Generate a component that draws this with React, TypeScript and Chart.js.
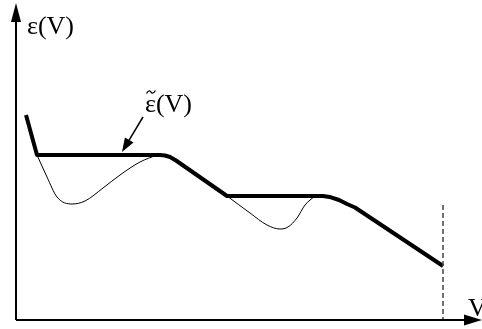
import React, { useEffect, useRef } from "react";
import { Chart, registerables } from "chart.js";

Chart.register(...registerables);

// Data units: x from 0 (y-axis) to 466, y from 0 (x-axis) to 320
const envelopeX = [10, 21, 144, 149, 154, 160, 211, 307, 315, 323, 331, 339, 427];
const envelopeY = [205, 165, 165, 164.5, 163, 159.5, 124, 124, 122.7, 120, 116, 112.5, 54];

const dip1X = [21, 31, 41, 56, 69, 87, 104, 124, 141];
const dip1Y = [165, 143, 123, 116, 119, 132, 145, 158, 165];

const dip2X = [211, 234, 251, 264, 272, 281, 289, 299];
const dip2Y = [124, 107, 95, 91, 93, 102, 115, 124];

const dashedX = [427, 427];
const dashedY = [115, 0];

const yAxisLabel = "ε(V)";
const xAxisLabel = "V";
const envelopeSymbol = "ε";
const envelopeArg = "(V)";

const X_MAX = 466;
const Y_MAX = 320;

function pts(xs: number[], ys: number[]) {
  return xs.map((x, i) => ({ x, y: ys[i] }));
}

const decorPlugin = {
  id: "decor",
  afterDatasetsDraw(chart: any) {
    const ctx: CanvasRenderingContext2D = chart.ctx;
    const xs = chart.scales.x;
    const ys = chart.scales.y;
    const ox = xs.getPixelForValue(0);
    const oy = ys.getPixelForValue(0);
    const topY = ys.getPixelForValue(317);
    const rightX = xs.getPixelForValue(X_MAX);
    ctx.save();
    ctx.strokeStyle = "#000";
    ctx.fillStyle = "#000";
    ctx.lineWidth = 2;
    // axes
    ctx.beginPath();
    ctx.moveTo(ox, oy);
    ctx.lineTo(ox, topY + 12);
    ctx.moveTo(ox, oy);
    ctx.lineTo(rightX - 12, oy);
    ctx.stroke();
    // y arrowhead
    ctx.beginPath();
    ctx.moveTo(ox, topY);
    ctx.lineTo(ox - 5, topY + 19);
    ctx.lineTo(ox + 5, topY + 19);
    ctx.closePath();
    ctx.fill();
    // x arrowhead
    ctx.beginPath();
    ctx.moveTo(rightX, oy);
    ctx.lineTo(rightX - 18, oy - 5.5);
    ctx.lineTo(rightX - 18, oy + 5.5);
    ctx.closePath();
    ctx.fill();
    // labels
    ctx.font = "26px 'Liberation Serif', 'Times New Roman', serif";
    ctx.textBaseline = "alphabetic";
    ctx.textAlign = "left";
    ctx.fillText(yAxisLabel, ox + 11, ys.getPixelForValue(286));
    ctx.fillText(xAxisLabel, xs.getPixelForValue(452), oy - 4);
    const lx = xs.getPixelForValue(129);
    const lb = ys.getPixelForValue(208);
    ctx.fillText(envelopeSymbol, lx, lb);
    const we = ctx.measureText(envelopeSymbol).width;
    ctx.fillText(envelopeArg, lx + we, lb);
    // tilde over epsilon
    ctx.lineWidth = 1.3;
    ctx.beginPath();
    const t0 = lx + 1.5;
    const t1 = lx + we - 0.5;
    const ty = lb - 20;
    ctx.moveTo(t0, ty + 1.5);
    ctx.bezierCurveTo(t0 + (t1 - t0) * 0.25, ty - 2.5, t0 + (t1 - t0) * 0.45, ty - 1, (t0 + t1) / 2, ty);
    ctx.bezierCurveTo(t0 + (t1 - t0) * 0.55, ty + 1, t0 + (t1 - t0) * 0.75, ty + 2.5, t1, ty - 1.5);
    ctx.stroke();
    // annotation arrow
    const ax0 = xs.getPixelForValue(127);
    const ay0 = ys.getPixelForValue(203);
    const ax1 = xs.getPixelForValue(106);
    const ay1 = ys.getPixelForValue(168);
    const ang = Math.atan2(ay1 - ay0, ax1 - ax0);
    ctx.lineWidth = 1.5;
    ctx.beginPath();
    ctx.moveTo(ax0, ay0);
    ctx.lineTo(ax1 - Math.cos(ang) * 10, ay1 - Math.sin(ang) * 10);
    ctx.stroke();
    ctx.beginPath();
    ctx.moveTo(ax1, ay1);
    ctx.lineTo(ax1 - Math.cos(ang) * 14 + Math.sin(ang) * 5, ay1 - Math.sin(ang) * 14 - Math.cos(ang) * 5);
    ctx.lineTo(ax1 - Math.cos(ang) * 14 - Math.sin(ang) * 5, ay1 - Math.sin(ang) * 14 + Math.cos(ang) * 5);
    ctx.closePath();
    ctx.fill();
    ctx.restore();
  },
};

export default function App() {
  const ref = useRef<HTMLCanvasElement>(null);
  useEffect(() => {
    if (!ref.current) return;
    const chart = new Chart(ref.current, {
      type: "scatter",
      data: {
        datasets: [
          {
            data: pts(dip1X, dip1Y),
            showLine: true,
            borderColor: "#000",
            borderWidth: 1,
            pointRadius: 0,
            cubicInterpolationMode: "monotone",
          },
          {
            data: pts(dip2X, dip2Y),
            showLine: true,
            borderColor: "#000",
            borderWidth: 1,
            pointRadius: 0,
            cubicInterpolationMode: "monotone",
          },
          {
            data: pts(dashedX, dashedY),
            showLine: true,
            borderColor: "#444",
            borderWidth: 1.5,
            borderDash: [5, 3],
            pointRadius: 0,
          },
          {
            data: pts(envelopeX, envelopeY),
            showLine: true,
            borderColor: "#000",
            borderWidth: 4,
            pointRadius: 0,
            tension: 0,
            borderJoinStyle: "round",
            borderCapStyle: "butt",
          },
        ],
      } as any,
      options: {
        animation: false,
        responsive: false,
        layout: { padding: { left: 16, right: 0, top: 0, bottom: 9 } },
        plugins: { legend: { display: false }, tooltip: { enabled: false } },
        scales: {
          x: { type: "linear", min: 0, max: X_MAX, display: false },
          y: { type: "linear", min: 0, max: Y_MAX, display: false },
        },
      } as any,
      plugins: [decorPlugin],
    });
    return () => chart.destroy();
  }, []);
  return (
    <div style={{ position: "absolute", left: 0, top: 0, width: 482, height: 329, background: "#fff" }}>
      <canvas ref={ref} width={482} height={329} />
    </div>
  );
}
